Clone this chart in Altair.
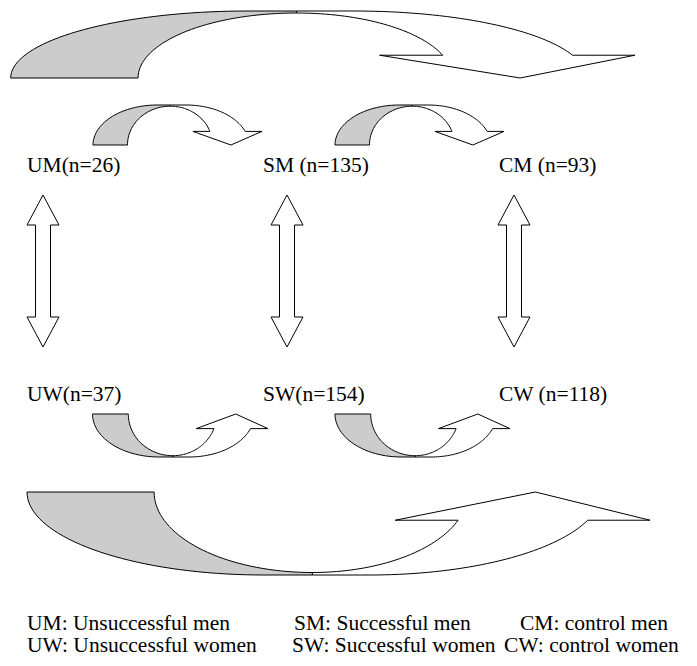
import altair as alt
import pandas as pd
import numpy as np

# ---- text content ----
top_labels = ["UM(n=26)", "SM (n=135)", "CM (n=93)"]
bottom_labels = ["UW(n=37)", "SW(n=154)", "CW (n=118)"]
legend_row1 = ["UM: Unsuccessful men", "SM: Successful men", "CM: control men"]
legend_row2 = ["UW: Unsuccessful women", "SW: Successful women", "CW: control women"]

# ---- layout (pixel coordinates of the page) ----
label_x = [27, 263, 499]
label_y = [172, 401]
legend_x1 = [27, 294, 520]
legend_x2 = [27, 292, 504]
legend_y = [630, 652]

# curved arrows: name, left, right, base y, apex y
curved_specs = [
    ("top_big", 10.7, 635, 78, 11),
    ("top_s1", 93, 262, 145, 105),
    ("top_s2", 335, 504, 145, 105),
    ("bot_s1", 92.5, 268, 414, 457),
    ("bot_s2", 335, 510, 414, 457),
    ("bot_big", 27, 650, 492, 575),
]
# double arrows: center x, top y, bottom y
double_cx = [43, 287, 514]
double_top, double_bot = 195, 347

# normalized shape of the curved arrow
AG = 0.38      # apex of gray outer edge
UC = 0.458     # crossing
VC = 0.97
UW0 = 0.55     # start of white outer descent
VB = 0.34      # arrowhead base level
UBL, UTIP, UR = 0.591, 0.816, 1.0


def curved(name, x0, x1, yb, ya, n=40):
    W = x1 - x0
    H = ya - yb
    P = lambda u, v: (x0 + u * W, yb + v * H)
    gray = []
    for t in np.linspace(np.pi, np.pi / 2, n):
        gray.append(P(AG + AG * np.cos(t), np.sin(t)))
    gray.append(P(UC, 1.0))
    for t in np.linspace(np.pi / 2, np.pi, n):
        gray.append(P(UC + (UC - 0.204) * np.cos(t), VC * np.sin(t)))
    white = [P(UC, 1.0), P(UW0, 1.0)]
    rxo = (0.9 - UW0) / np.cos(np.arcsin(VB))
    for t in np.linspace(np.pi / 2, np.arcsin(VB), n):
        white.append(P(UW0 + rxo * np.cos(t), np.sin(t)))
    white += [P(UR, VB), P(UTIP, 0.0), P(UBL, VB)]
    ti = np.arcsin(VB / VC)
    rxi = (0.692 - UC) / np.cos(ti)
    for t in np.linspace(ti, np.pi / 2, n):
        white.append(P(UC + rxi * np.cos(t), VC * np.sin(t)))
    return gray, white


gray_rows, white_rows = [], []
for spec in curved_specs:
    g, w = curved(*spec)
    for i, (x, y) in enumerate(g):
        gray_rows.append({"shape": spec[0] + "_g", "i": i, "x": x, "y": y})
    for i, (x, y) in enumerate(w):
        white_rows.append({"shape": spec[0] + "_w", "i": i, "x": x, "y": y})

hl, hw, sw = 30, 16, 7.5
for k, cx in enumerate(double_cx):
    t, b = double_top, double_bot
    pts = [(cx, t), (cx + hw, t + hl), (cx + sw, t + hl), (cx + sw, b - hl),
           (cx + hw, b - hl), (cx, b), (cx - hw, b - hl), (cx - sw, b - hl),
           (cx - sw, t + hl), (cx - hw, t + hl)]
    for i, (x, y) in enumerate(pts):
        white_rows.append({"shape": f"dbl{k}", "i": i, "x": x, "y": y})

text_rows = []
for j, s in enumerate(top_labels):
    text_rows.append({"x": label_x[j], "y": label_y[0], "t": s})
for j, s in enumerate(bottom_labels):
    text_rows.append({"x": label_x[j], "y": label_y[1], "t": s})
for j, s in enumerate(legend_row1):
    text_rows.append({"x": legend_x1[j], "y": legend_y[0], "t": s})
for j, s in enumerate(legend_row2):
    text_rows.append({"x": legend_x2[j], "y": legend_y[1], "t": s})

xs = alt.Scale(domain=[8, 689], nice=False, zero=False)
ys = alt.Scale(domain=[8, 658], nice=False, zero=False, reverse=True)
X = alt.X("x:Q", scale=xs, axis=None)
Y = alt.Y("y:Q", scale=ys, axis=None)

white_layer = alt.Chart(pd.DataFrame(white_rows)).mark_line(
    fill="white", stroke="black", strokeWidth=1, interpolate="linear-closed"
).encode(x=X, y=Y, detail="shape:N", order="i:Q")

gray_layer = alt.Chart(pd.DataFrame(gray_rows)).mark_line(
    fill="#cccccc", stroke="black", strokeWidth=1, interpolate="linear-closed"
).encode(x=X, y=Y, detail="shape:N", order="i:Q")

text_layer = alt.Chart(pd.DataFrame(text_rows)).mark_text(
    align="left", baseline="alphabetic", font="Liberation Serif", fontSize=21.5, color="black"
).encode(x=X, y=Y, text="t:N")

chart = alt.layer(white_layer, gray_layer, text_layer).properties(
    width=681, height=650, padding=0
).configure_view(stroke=None)

chart.save("out.html", embed_options={"renderer": "svg", "actions": False})
